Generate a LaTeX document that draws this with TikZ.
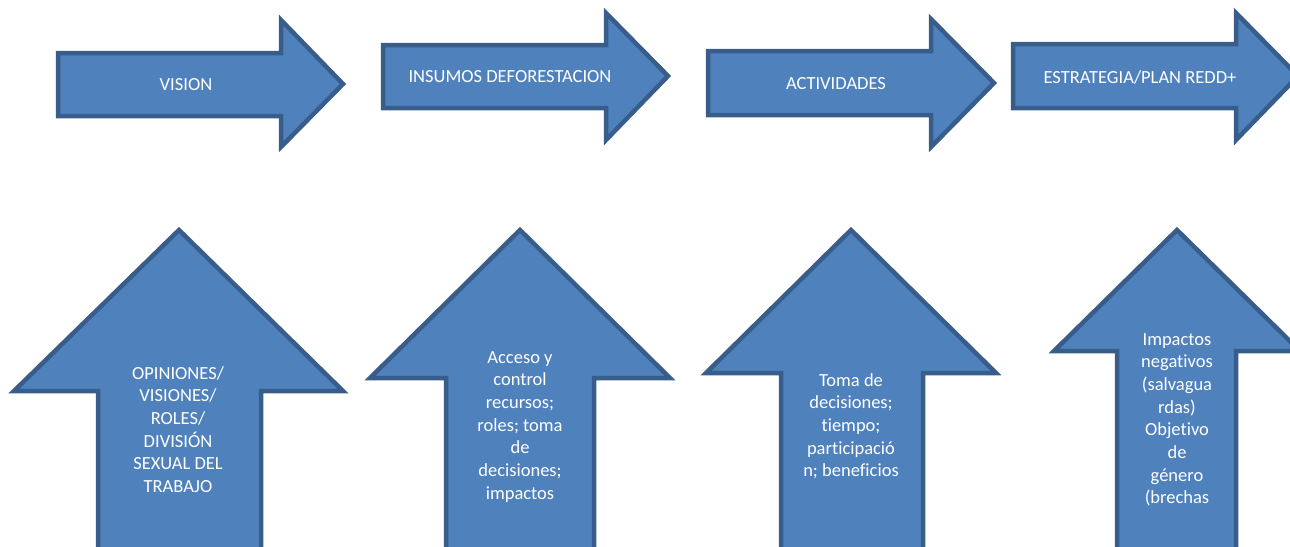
\documentclass[tikz,border=0pt]{standalone}
\usepackage{fontspec}
\setmainfont{Carlito}[Ligatures={NoCommon,NoContextual}]
\definecolor{arrowfill}{HTML}{4F81BD}
\definecolor{arrowline}{HTML}{385D8A}
\begin{document}
\begin{tikzpicture}[x=1pt,y=-1pt,
  blockarrow/.style={fill=arrowfill,draw=arrowline,line width=4.5pt,line join=miter},
  lbl/.style={text=white,font=\fontsize{18.5}{22.7}\selectfont,inner sep=0pt,align=center}]
\useasboundingbox (0,0) rectangle (1290,546);
\clip (0,0) rectangle (1290,546);
% right arrows: left, shaft top, shaft bottom, head base x, head top, head bottom, tip x, tip y
\newcommand{\rarrow}[8]{\draw[blockarrow] (#1,#2) -- (#4,#2) -- (#4,#5) -- (#7,#8) -- (#4,#6) -- (#4,#3) -- (#1,#3) -- cycle;}
% up arrows: shaft left, shaft right, head base y, head left, head right, tip x, tip y
\newcommand{\uarrow}[7]{\draw[blockarrow] (#1,560) -- (#1,#3) -- (#4,#3) -- (#6,#7) -- (#5,#3) -- (#2,#3) -- (#2,560) -- cycle;}
\rarrow{58}{53}{116}{281}{20}{147}{343}{84}
\rarrow{383}{45}{108}{606}{13}{140}{668}{76}
\rarrow{708}{51}{115}{931}{19}{147}{994}{83}
\rarrow{1013}{44}{108}{1236}{13}{140}{1298}{76}
\uarrow{98}{261}{391}{14}{343}{179}{230}
\uarrow{446}{594}{378}{370}{670}{520}{230}
\uarrow{781}{923}{373}{706}{996}{851}{230}
\uarrow{1117}{1236}{351}{1054}{1300}{1177}{230}
\node[lbl] (vision) at (186,85) {VISION};
\node[lbl] (insumos) at (510,77) {INSUMOS DEFORESTACION};
\node[lbl] (actividades) at (836,84) {ACTIVIDADES};
\node[lbl] (estrategia) at (1140,77) {ESTRATEGIA/PLAN REDD+};
\node[lbl,anchor=north] (opiniones) at (178,366) {OPINIONES/\\VISIONES/\\ROLES/\\DIVISIÓN\\SEXUAL DEL\\TRABAJO};
\node[lbl,anchor=north] (acceso) at (520,351) {Acceso y\\control\\recursos;\\roles; toma\\de\\decisiones;\\impactos};
\node[lbl,anchor=north] (toma) at (851,373) {Toma de\\decisiones;\\tiempo;\\participació\\n; beneficios};
\node[lbl,anchor=north] (impactos) at (1177,333) {Impactos\\negativos\\(salvagua\\rdas)\\Objetivo\\de\\género\\(brechas};
\end{tikzpicture}
\end{document}
